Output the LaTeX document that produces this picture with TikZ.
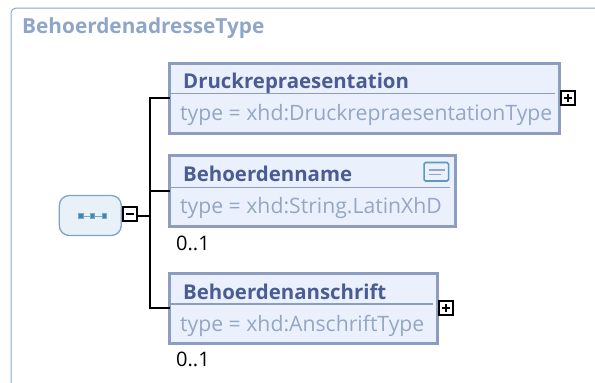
\documentclass[tikz,border=0pt]{standalone}
\usepackage{fontspec}
\setmainfont{Open Sans}
\definecolor{frameC}{HTML}{8FA6C9}
\definecolor{borderC}{HTML}{8C9DBF}
\definecolor{fillC}{HTML}{EAF1FC}
\definecolor{nameC}{HTML}{4A5C93}
\definecolor{typeC}{HTML}{94A6C6}
\definecolor{seqB}{HTML}{7FA3C4}
\definecolor{seqF}{HTML}{E8F0F8}
\definecolor{iconC}{HTML}{3E87B5}
\tikzset{x=1pt,y=-1pt,
 elem/.style={draw=borderC,fill=fillC,line width=3pt,inner sep=0pt,outer sep=0pt,anchor=north west},
 ename/.style={font=\bfseries\fontsize{20.4}{24}\selectfont,text=nameC,anchor=base west,inner sep=0pt},
 etype/.style={font=\fontsize{21.2}{24}\selectfont,text=typeC,anchor=base west,inner sep=0pt},
 card/.style={font=\fontsize{20}{24}\selectfont,text=black,anchor=base west,inner sep=0pt},
 divider/.style={draw=borderC,line width=1.5pt},
 toggle/.style={draw=black,fill=white,line width=2pt,minimum size=14pt,inner sep=0pt,outer sep=0pt,anchor=center},
 conn/.style={draw=black,line width=2pt},
 sign/.style={draw=black,line width=1.8pt}
}
\begin{document}
\begin{tikzpicture}
\useasboundingbox (0,0) rectangle (595,383);
\path[draw=frameC,line width=1pt,rounded corners=5pt] (11,384) -- (11,8) -- (596,8);
\node[font=\bfseries\fontsize{20.8}{24}\selectfont,text=frameC,anchor=base west,inner sep=0pt] (title) at (22,33) {BehoerdenadresseType};
% elements
\node[elem,minimum width=390pt,minimum height=70pt] (druck) at (169.5,63.5) {};
\node[elem,minimum width=285.5pt,minimum height=71pt] (bname) at (169.5,155.5) {};
\node[elem,minimum width=268pt,minimum height=70pt] (banschrift) at (169.5,273.5) {};
\draw[divider] (170,93.5) -- (555,93.5);
\draw[divider] (170,187.5) -- (450,187.5);
\draw[divider] (170,304) -- (433,304);
\node[ename] (n1) at (183,88) {Druckrepraesentation};
\node[etype] (t1) at (180,120) {type = xhd:DruckrepraesentationType};
\node[ename] (n2) at (183,181) {Behoerdenname};
\node[etype] (t2) at (180,213.5) {type = xhd:String.LatinXhD};
\node[ename] (n3) at (183,299) {Behoerdenanschrift};
\node[etype] (t3) at (180,331) {type = xhd:AnschriftType};
\node[card] (c2) at (176,250) {0..1};
\node[card] (c3) at (176,366) {0..1};
% annotation icon
\node[draw=iconC!85,fill=fillC,line width=1.6pt,rounded corners=1.5pt,minimum width=24.5pt,minimum height=18.5pt,inner sep=0pt,outer sep=0pt] (doc) at (436.3,171.7) {};
\draw[typeC,line width=1.1pt] (428.5,170) -- (444.5,170) (428.5,174.5) -- (441,174.5);
% sequence
\node[draw=seqB,fill=seqF,line width=1.3pt,rounded corners=10pt,minimum width=62pt,minimum height=40pt,inner sep=0pt,outer sep=0pt] (seq) at (90.3,215.5) {};
\draw[iconC!70,line width=.5pt] (80.5,216) -- (104,216);
\foreach \px/\nm in {80.7/sa,92.5/sb,104.3/sc}
 \node[draw=iconC!70,fill=iconC,line width=.6pt,minimum size=4.5pt,inner sep=0pt,outer sep=0pt] (\nm) at (\px,216) {};
% toggles
\node[toggle] (tm) at (130,214) {};
\draw[sign] (126,214) -- (134,214);
\node[toggle] (tp1) at (568,98) {};
\draw[sign] (564,98) -- (572,98) (568,94) -- (568,102);
\node[toggle] (tp3) at (446,308) {};
\draw[sign] (442,308) -- (450,308) (446,304) -- (446,312);
% connectors
\coordinate (junc) at (149.5,215.7);
\draw[conn] (tm.east |- junc) -- (junc);
\draw[conn] ([yshift=1pt]druck.west) -| (junc);
\draw[conn] (bname.west) -| (junc);
\draw[conn] ([yshift=1pt]banschrift.west) -| (junc);
\end{tikzpicture}
\end{document}
